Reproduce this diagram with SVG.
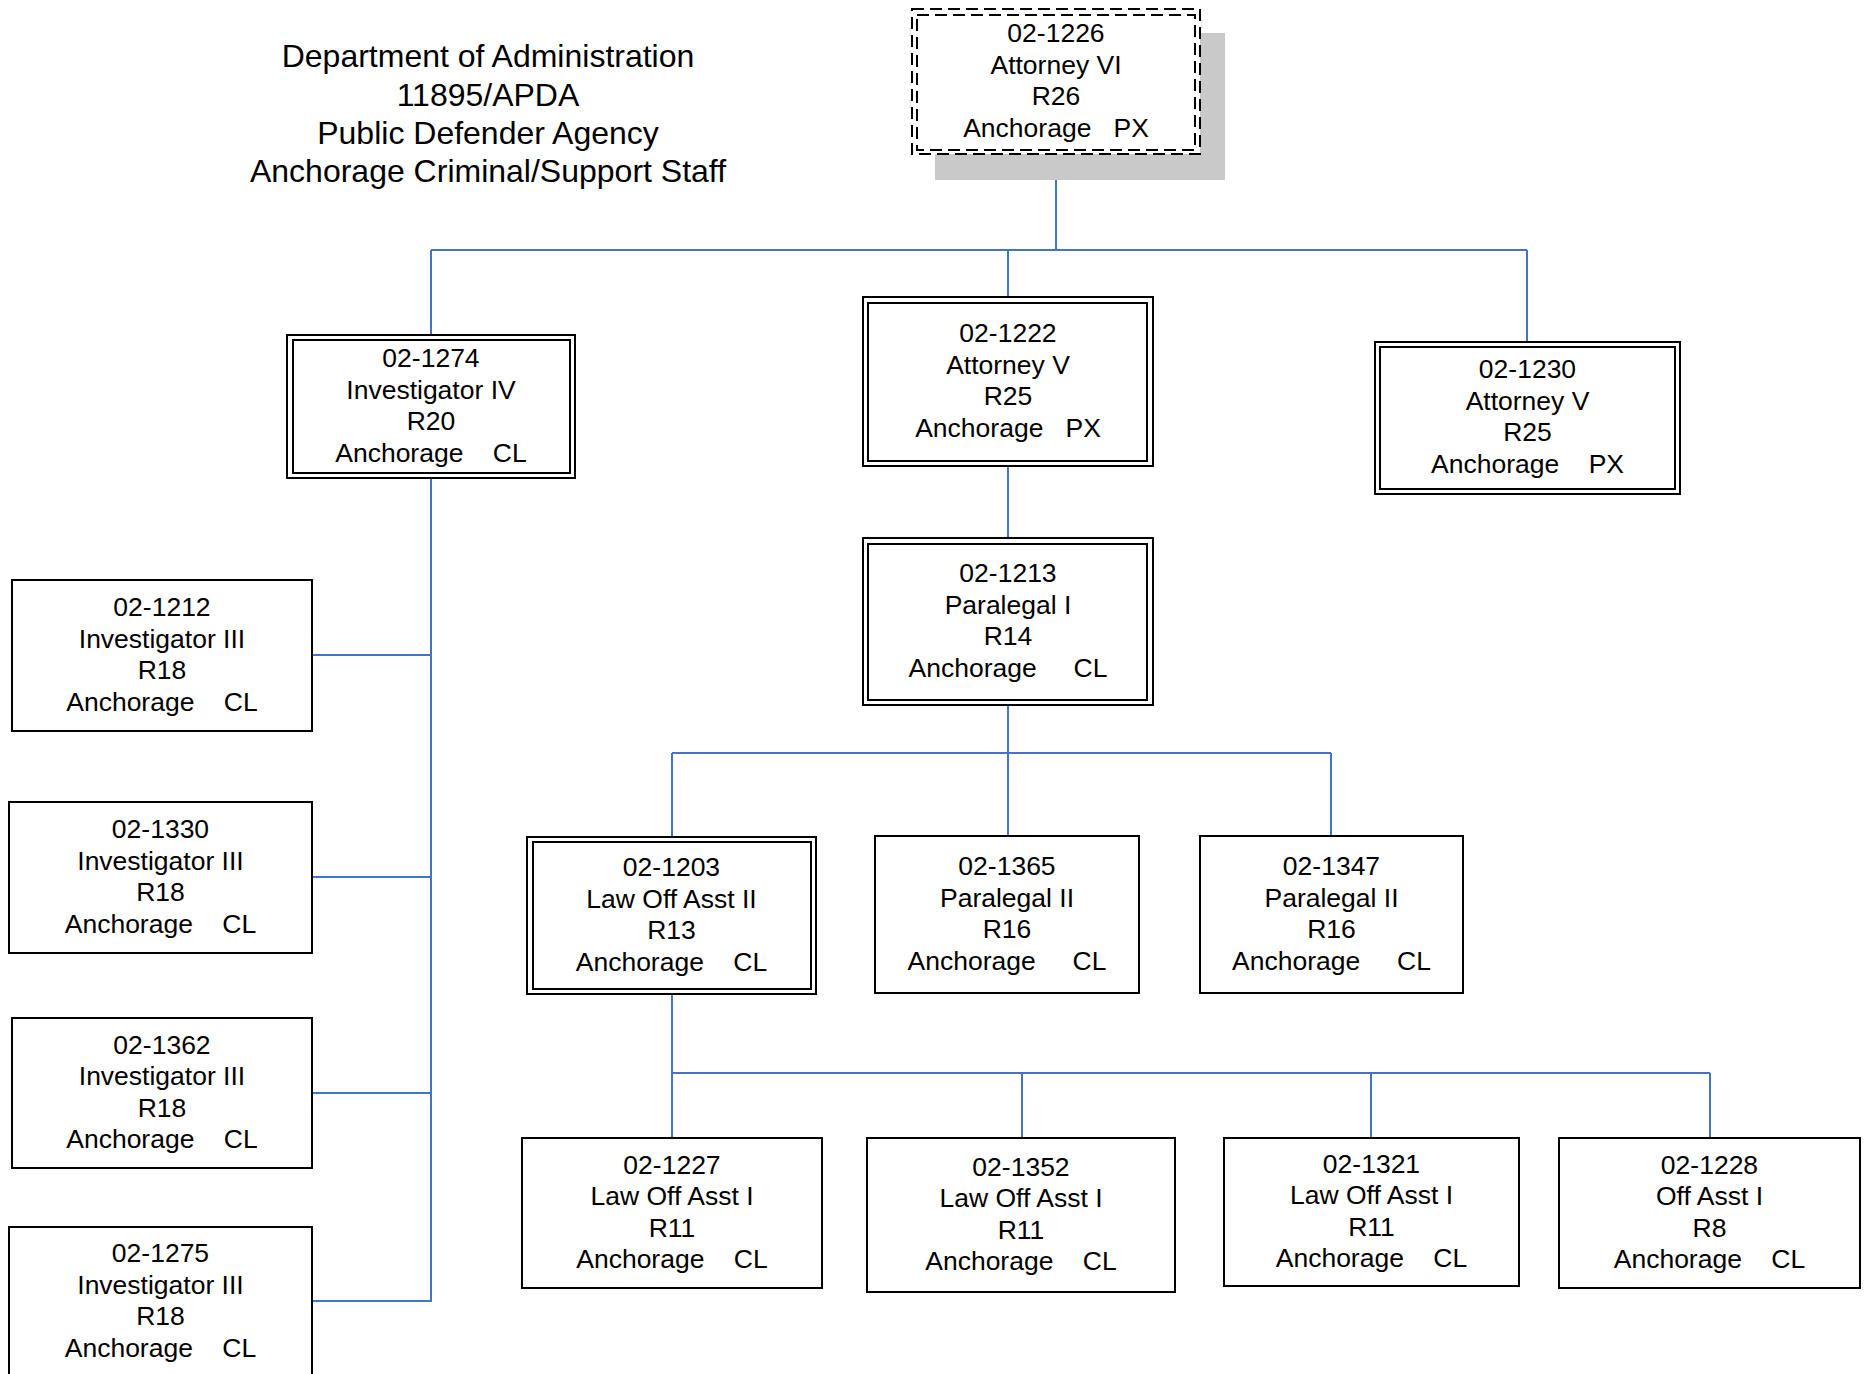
<svg xmlns="http://www.w3.org/2000/svg" width="1865" height="1374" viewBox="0 0 1865 1374">
<style>
text{font-family:"Liberation Sans",Arial,sans-serif;fill:#000;text-anchor:middle;white-space:pre}
.t{font-size:32px}
.n{font-size:26.5px}
.box{fill:#fff;stroke:#000;stroke-width:2}
.dash{fill:#fff;stroke:#000;stroke-width:2;stroke-dasharray:12 6}
.dashi{fill:none;stroke:#000;stroke-width:2;stroke-dasharray:12 6}
.inner{fill:none;stroke:#000;stroke-width:2}
.conn line{stroke:#4472C4;stroke-width:2}
</style>
<g id="title">
<text class="t" x="488" y="67">Department of Administration</text>
<text class="t" x="488" y="105.5">11895/APDA</text>
<text class="t" x="488" y="144">Public Defender Agency</text>
<text class="t" x="488" y="182">Anchorage Criminal/Support Staff</text>
</g>
<g class="conn" id="connectors">
<line x1="1056" y1="154" x2="1056" y2="250"/>
<line x1="431" y1="250" x2="1527" y2="250"/>
<line x1="431" y1="250" x2="431" y2="335"/>
<line x1="1008" y1="250" x2="1008" y2="297"/>
<line x1="1527" y1="250" x2="1527" y2="342"/>
<line x1="1008" y1="466" x2="1008" y2="538"/>
<line x1="431" y1="478" x2="431" y2="1302"/>
<line x1="312" y1="655" x2="431" y2="655"/>
<line x1="312" y1="877" x2="431" y2="877"/>
<line x1="312" y1="1093" x2="431" y2="1093"/>
<line x1="312" y1="1301" x2="431" y2="1301"/>
<line x1="1008" y1="705" x2="1008" y2="836"/>
<line x1="672" y1="753" x2="1331" y2="753"/>
<line x1="672" y1="753" x2="672" y2="837"/>
<line x1="1331" y1="753" x2="1331" y2="836"/>
<line x1="672" y1="994" x2="672" y2="1138"/>
<line x1="672" y1="1073" x2="1710" y2="1073"/>
<line x1="1022" y1="1073" x2="1022" y2="1138"/>
<line x1="1371" y1="1073" x2="1371" y2="1138"/>
<line x1="1710" y1="1073" x2="1710" y2="1138"/>
</g>
<g id="n1226">
<rect x="935" y="33" width="290" height="147" fill="#c9c9c9"/>
<rect class="dash" x="912" y="9" width="288" height="145"/>
<rect class="dashi" x="917" y="15" width="278" height="135"/>
<text class="n" x="1056" y="42">02-1226</text>
<text class="n" x="1056" y="73.5">Attorney VI</text>
<text class="n" x="1056" y="105">R26</text>
<text class="n" x="1056" y="136.5" xml:space="preserve">Anchorage   PX</text>
</g>
<g id="n1274">
<rect class="box" x="287" y="335" width="288" height="143"/>
<rect class="inner" x="293" y="340" width="277" height="133"/>
<text class="n" x="431" y="367">02-1274</text>
<text class="n" x="431" y="398.5">Investigator IV</text>
<text class="n" x="431" y="430">R20</text>
<text class="n" x="431" y="461.5" xml:space="preserve">Anchorage    CL</text>
</g>
<g id="n1222">
<rect class="box" x="863" y="297" width="290" height="169"/>
<rect class="inner" x="868" y="303" width="279" height="158"/>
<text class="n" x="1008" y="342">02-1222</text>
<text class="n" x="1008" y="373.5">Attorney V</text>
<text class="n" x="1008" y="405">R25</text>
<text class="n" x="1008" y="436.5" xml:space="preserve">Anchorage   PX</text>
</g>
<g id="n1230">
<rect class="box" x="1375" y="342" width="305" height="152"/>
<rect class="inner" x="1380" y="347" width="295" height="142"/>
<text class="n" x="1527.5" y="378">02-1230</text>
<text class="n" x="1527.5" y="409.5">Attorney V</text>
<text class="n" x="1527.5" y="441">R25</text>
<text class="n" x="1527.5" y="472.5" xml:space="preserve">Anchorage    PX</text>
</g>
<g id="n1213">
<rect class="box" x="863" y="538" width="290" height="167"/>
<rect class="inner" x="868" y="544" width="279" height="156"/>
<text class="n" x="1008" y="582">02-1213</text>
<text class="n" x="1008" y="613.5">Paralegal I</text>
<text class="n" x="1008" y="645">R14</text>
<text class="n" x="1008" y="676.5" xml:space="preserve">Anchorage     CL</text>
</g>
<g id="n1212">
<rect class="box" x="12" y="580" width="300" height="151"/>
<text class="n" x="162" y="616">02-1212</text>
<text class="n" x="162" y="647.5">Investigator III</text>
<text class="n" x="162" y="679">R18</text>
<text class="n" x="162" y="710.5" xml:space="preserve">Anchorage    CL</text>
</g>
<g id="n1330">
<rect class="box" x="9" y="802" width="303" height="151"/>
<text class="n" x="160.5" y="838">02-1330</text>
<text class="n" x="160.5" y="869.5">Investigator III</text>
<text class="n" x="160.5" y="901">R18</text>
<text class="n" x="160.5" y="932.5" xml:space="preserve">Anchorage    CL</text>
</g>
<g id="n1362">
<rect class="box" x="12" y="1018" width="300" height="150"/>
<text class="n" x="162" y="1053.5">02-1362</text>
<text class="n" x="162" y="1085">Investigator III</text>
<text class="n" x="162" y="1116.5">R18</text>
<text class="n" x="162" y="1148" xml:space="preserve">Anchorage    CL</text>
</g>
<g id="n1275">
<rect class="box" x="9" y="1227" width="303" height="152"/>
<text class="n" x="160.5" y="1262">02-1275</text>
<text class="n" x="160.5" y="1293.5">Investigator III</text>
<text class="n" x="160.5" y="1325">R18</text>
<text class="n" x="160.5" y="1356.5" xml:space="preserve">Anchorage    CL</text>
</g>
<g id="n1203">
<rect class="box" x="527" y="837" width="289" height="157"/>
<rect class="inner" x="533" y="842" width="278" height="147"/>
<text class="n" x="671.5" y="876">02-1203</text>
<text class="n" x="671.5" y="907.5">Law Off Asst II</text>
<text class="n" x="671.5" y="939">R13</text>
<text class="n" x="671.5" y="970.5" xml:space="preserve">Anchorage    CL</text>
</g>
<g id="n1365">
<rect class="box" x="875" y="836" width="264" height="157"/>
<text class="n" x="1007" y="875">02-1365</text>
<text class="n" x="1007" y="906.5">Paralegal II</text>
<text class="n" x="1007" y="938">R16</text>
<text class="n" x="1007" y="969.5" xml:space="preserve">Anchorage     CL</text>
</g>
<g id="n1347">
<rect class="box" x="1200" y="836" width="263" height="157"/>
<text class="n" x="1331.5" y="875">02-1347</text>
<text class="n" x="1331.5" y="906.5">Paralegal II</text>
<text class="n" x="1331.5" y="938">R16</text>
<text class="n" x="1331.5" y="969.5" xml:space="preserve">Anchorage     CL</text>
</g>
<g id="n1227">
<rect class="box" x="522" y="1138" width="300" height="150"/>
<text class="n" x="672" y="1173.5">02-1227</text>
<text class="n" x="672" y="1205">Law Off Asst I</text>
<text class="n" x="672" y="1236.5">R11</text>
<text class="n" x="672" y="1268" xml:space="preserve">Anchorage    CL</text>
</g>
<g id="n1352">
<rect class="box" x="867" y="1138" width="308" height="154"/>
<text class="n" x="1021" y="1175.5">02-1352</text>
<text class="n" x="1021" y="1207">Law Off Asst I</text>
<text class="n" x="1021" y="1238.5">R11</text>
<text class="n" x="1021" y="1270" xml:space="preserve">Anchorage    CL</text>
</g>
<g id="n1321">
<rect class="box" x="1224" y="1138" width="295" height="148"/>
<text class="n" x="1371.5" y="1172.5">02-1321</text>
<text class="n" x="1371.5" y="1204">Law Off Asst I</text>
<text class="n" x="1371.5" y="1235.5">R11</text>
<text class="n" x="1371.5" y="1267" xml:space="preserve">Anchorage    CL</text>
</g>
<g id="n1228">
<rect class="box" x="1559" y="1138" width="301" height="150"/>
<text class="n" x="1709.5" y="1173.5">02-1228</text>
<text class="n" x="1709.5" y="1205">Off Asst I</text>
<text class="n" x="1709.5" y="1236.5">R8</text>
<text class="n" x="1709.5" y="1268" xml:space="preserve">Anchorage    CL</text>
</g>
</svg>
